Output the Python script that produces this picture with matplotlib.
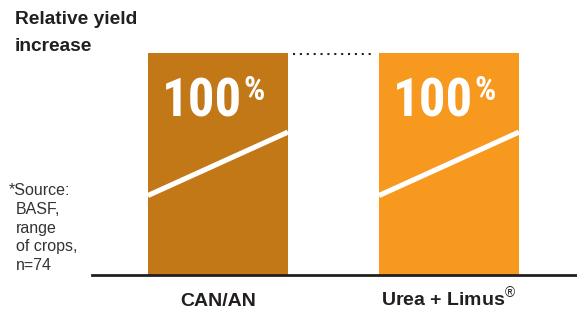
"""Relative yield increase: CAN/AN vs Urea + Limus."""

import matplotlib
matplotlib.use("Agg")
import matplotlib.pyplot as plt
from matplotlib import font_manager

categories = ["CAN/AN", r"Urea + Limus$^{\circledR}$"]
values = [100, 100]
trend_start = [35.6, 35.6]
trend_end = [64.2, 64.2]
bar_colors = ["#C27816", "#F7981F"]
title_lines = ["Relative yield", "increase"]
source_lines = ["*Source:", "BASF,", "range", "of crops,", "n=74"]

DARK = "#231F20"
NARROW_CANDIDATES = ["Liberation Sans Narrow", "Arimo Narrow", "Roboto Condensed",
                     "Archivo Narrow", "PT Sans Narrow", "Fira Sans Condensed",
                     "IBM Plex Sans Condensed", "Barlow Semi Condensed"]


def condensed_bold():
    """Pick a narrow bold face for the big percentages, if one is installed."""
    fonts = font_manager.fontManager.ttflist
    for name in NARROW_CANDIDATES:
        for f in fonts:
            if f.name == name and f.weight in (700, "bold") and f.style == "normal":
                return font_manager.FontProperties(fname=f.fname)
    return None


big_font = condensed_bold()

plt.rcParams["font.family"] = ["Liberation Sans", "DejaVu Sans"]
plt.rcParams["mathtext.fontset"] = "custom"
plt.rcParams["mathtext.rm"] = "Liberation Sans"
plt.rcParams["mathtext.bf"] = "Liberation Sans:bold"

W, H = 577, 311
fig = plt.figure(figsize=(W / 100, H / 100), dpi=100)
ax = fig.add_axes([92 / W, (H - 274.5) / H, (W - 92) / W, 221.8 / H])

x = list(range(len(categories)))
width = 0.606
ax.bar(x, values, width=width, color=bar_colors, linewidth=0)
ax.set_xlim(-0.545, 1.554)
ax.set_ylim(0, 100)

for xi, y0, y1 in zip(x, trend_start, trend_end):
    ax.plot([xi - width / 2, xi + width / 2], [y0, y1], color="white",
            lw=3.7, solid_capstyle="butt")
    if big_font is not None:
        t1 = ax.text(xi + 0.104, 71.4, "100", ha="right", va="baseline", color="white",
                     fontproperties=big_font)
        t1.set_fontsize(38)
        t2 = ax.text(xi + 0.108, 78.6, "%", ha="left", va="baseline", color="white",
                     fontproperties=big_font)
        t2.set_fontsize(24)
    else:
        ax.text(xi + 0.104, 71.4, "100", ha="right", va="baseline", color="white",
                fontsize=33, fontweight="bold")
        ax.text(xi + 0.108, 78.6, "%", ha="left", va="baseline", color="white",
                fontsize=20, fontweight="bold")

# dotted reference between the bar tops
ax.plot([x[0] + width / 2 + 0.02, x[1] - width / 2 - 0.02], [99.2, 99.2],
        color=DARK, lw=1.5, dashes=(1, 2.3))

for side in ["top", "right", "left"]:
    ax.spines[side].set_visible(False)
ax.spines["bottom"].set_linewidth(2)
ax.spines["bottom"].set_color(DARK)
ax.set_yticks([])
ax.set_xticks(x, labels=categories)
ax.tick_params(axis="x", length=0, pad=23, labelsize=14, labelcolor=DARK)
for lab in ax.get_xticklabels():
    lab.set_fontweight("bold")
    lab.set_verticalalignment("baseline")

for i, line in enumerate(title_lines):
    fig.text(15 / W, 1 - (24.5 + 26.7 * i) / H, line, ha="left", va="baseline",
             fontsize=13.8, fontweight="bold", color=DARK)

for i, line in enumerate(source_lines):
    fig.text((9 if i == 0 else 16) / W, 1 - (195 + 18.8 * i) / H, line,
             ha="left", va="baseline", fontsize=11.5, color="#333333")

fig.savefig("out.png", dpi=100)
